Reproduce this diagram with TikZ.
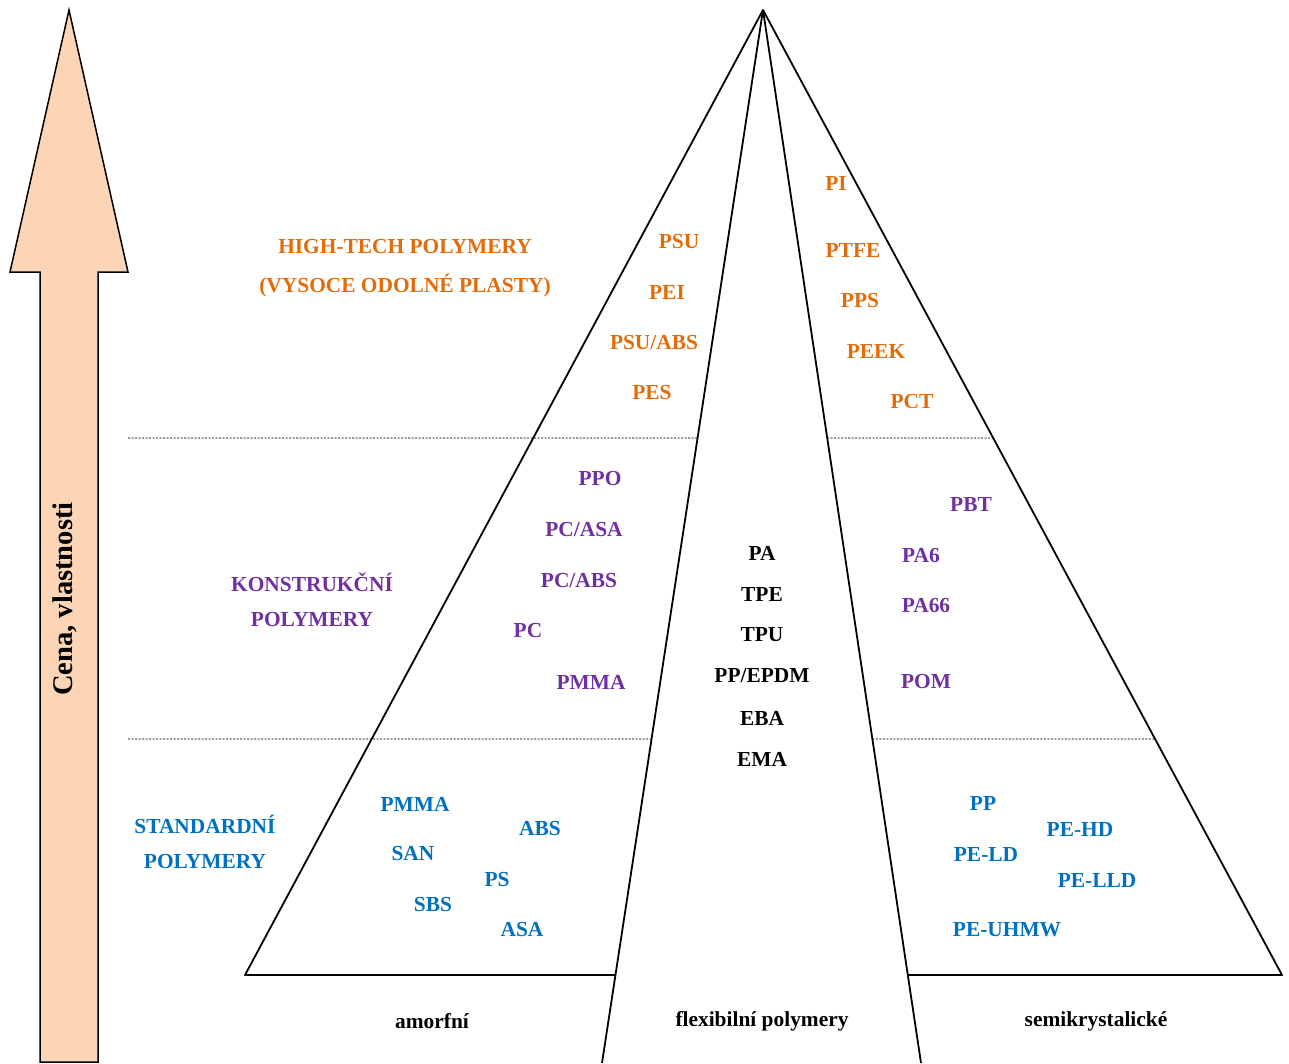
\documentclass[tikz,border=0pt]{standalone}
\usepackage{fontspec}
\setmainfont{Liberation Serif}
\usetikzlibrary{calc}
\definecolor{orng}{HTML}{E36C0A}
\definecolor{purp}{HTML}{7030A0}
\definecolor{blu}{HTML}{0070C0}
\definecolor{peach}{HTML}{FBD5B5}
\begin{document}
\begin{tikzpicture}[x=1pt,y=-1pt,
  lbl/.style={font=\fontsize{21.4}{25}\selectfont\bfseries, inner sep=0pt, anchor=center},
  hot/.style={lbl, text=orng},
  kon/.style={lbl, text=purp},
  std/.style={lbl, text=blu},
  flx/.style={lbl, text=black},
  edge/.style={draw=black, line width=1.8pt},
  sep/.style={draw=black!60, line width=1.1pt, dash pattern=on 2pt off 1.5pt}]
\useasboundingbox (0,0) rectangle (1289,1063);
% arrow
\draw[fill=peach, draw=black, line width=1.5pt, line join=miter]
  (69,10) -- (128,272) -- (98,272) -- (98,1062) -- (40,1062) -- (40,272) -- (10,272) -- cycle;
\node[lbl, font=\fontsize{28.5}{32}\selectfont\bfseries, rotate=90] (cena) at (65,599) {Cena, vlastnosti};
% pyramid
\coordinate (apex) at (763,10);
\coordinate (ol) at (245,975);
\coordinate (orr) at (1282,975);
\coordinate (il) at (602,1063);
\coordinate (ir) at (921,1063);
\coordinate (ilb) at ($(apex)!965/1053!(il)$);
\coordinate (irb) at ($(apex)!965/1053!(ir)$);
\coordinate (il1) at ($(apex)!428/1053!(il)$);
\coordinate (ir1) at ($(apex)!428/1053!(ir)$);
\coordinate (or1) at ($(apex)!428/965!(orr)$);
\coordinate (il2) at ($(apex)!729/1053!(il)$);
\coordinate (ir2) at ($(apex)!729/1053!(ir)$);
\coordinate (or2) at ($(apex)!729/965!(orr)$);
\coordinate (d1) at (128,438);
\coordinate (d2) at (128,739);
\draw[sep] (d1) -- (il1);
\draw[sep] (ir1) -- (or1);
\draw[sep] (d2) -- (il2);
\draw[sep] (ir2) -- (or2);
\draw[edge, line join=round] (ilb) -- (ol) -- (apex) -- (orr) -- (irb);
\draw[edge] (apex) -- (il);
\draw[edge] (apex) -- (ir);
% high-tech
\node[hot] (ht1) at (405,247) {HIGH-TECH POLYMERY};
\node[hot] (ht2) at (405,286) {(VYSOCE ODOLNÉ PLASTY)};
\node[hot] (psu) at (679,242) {PSU};
\node[hot] (pei) at (667,292) {PEI};
\node[hot] (psuabs) at (654,343) {PSU/ABS};
\node[hot] (pes) at (652,393) {PES};
\node[hot] (pi) at (836,183) {PI};
\node[hot] (ptfe) at (853,250) {PTFE};
\node[hot] (pps) at (860,301) {PPS};
\node[hot] (peek) at (876,351) {PEEK};
\node[hot] (pct) at (912,402) {PCT};
% konstrukcni
\node[kon] (k1) at (312,582) {KONSTRUKČNÍ};
\node[kon] (k2) at (312,620) {POLYMERY};
\node[kon] (ppo) at (600,479) {PPO};
\node[kon] (pcasa) at (584,530) {PC/ASA};
\node[kon] (pcabs) at (579,581) {PC/ABS};
\node[kon] (pc) at (528,631) {PC};
\node[kon] (pmma1) at (591,682) {PMMA};
\node[kon] (pbt) at (971,505) {PBT};
\node[kon] (pa6) at (921,556) {PA6};
\node[kon] (pa66) at (926,606) {PA66};
\node[kon] (pom) at (926,682) {POM};
% flexible
\node[flx] (pa) at (762,553) {PA};
\node[flx] (tpe) at (762,594) {TPE};
\node[flx] (tpu) at (762,635) {TPU};
\node[flx] (ppepdm) at (762,676) {PP/EPDM};
\node[flx] (eba) at (762,718) {EBA};
\node[flx] (ema) at (762,759) {EMA};
% standard
\node[std] (s1) at (205,824) {STANDARDNÍ};
\node[std] (s2) at (205,862) {POLYMERY};
\node[std] (pmma2) at (415,804) {PMMA};
\node[std] (san) at (413,854) {SAN};
\node[std] (sbs) at (433,905) {SBS};
\node[std] (abs) at (540,829) {ABS};
\node[std] (ps) at (497,880) {PS};
\node[std] (asa) at (522,930) {ASA};
\node[std] (pp) at (983,803) {PP};
\node[std] (pehd) at (1080,829) {PE-HD};
\node[std] (peld) at (986,854) {PE-LD};
\node[std] (pelld) at (1097,880) {PE-LLD};
\node[std] (peuhmw) at (1007,930) {PE-UHMW};
% bottom
\node[flx] (amf) at (432,1021) {amorfní};
\node[flx] (flex) at (762,1021) {flexibilní polymery};
\node[flx] (semi) at (1096,1021) {semikrystalické};
\end{tikzpicture}
\end{document}
